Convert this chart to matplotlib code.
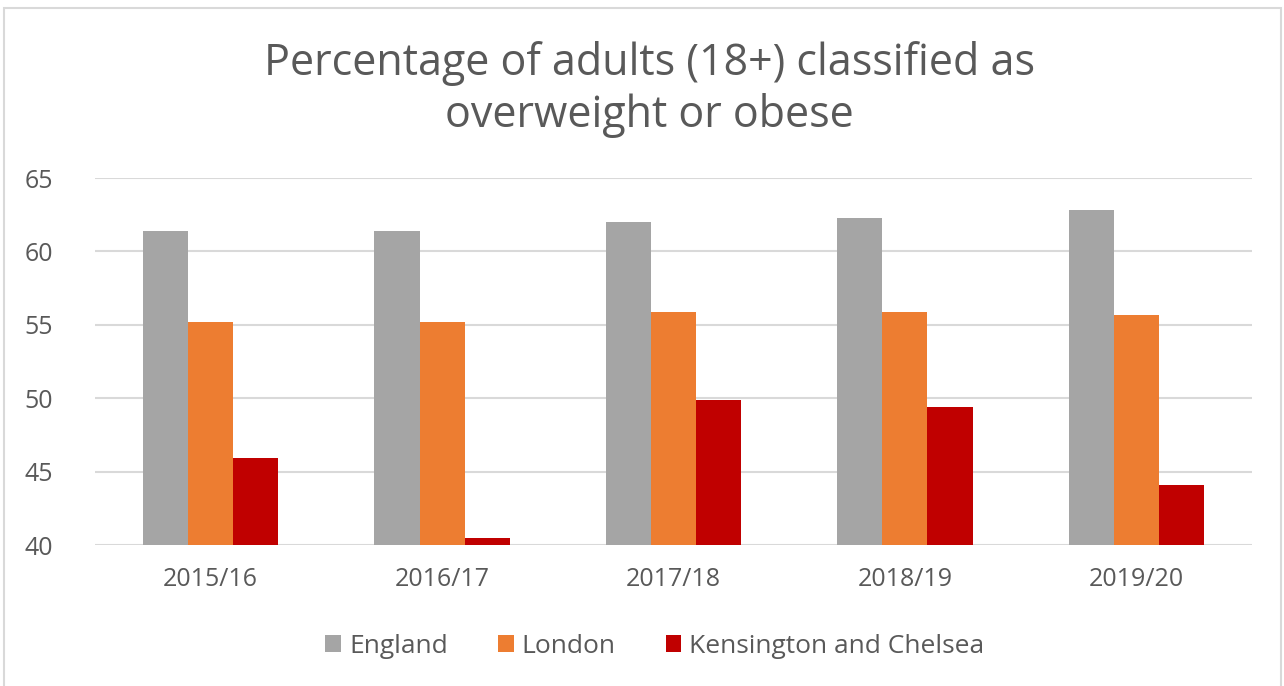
import numpy as np
import matplotlib.pyplot as plt
from matplotlib.patches import Rectangle

plt.rcParams['font.family'] = ['Open Sans', 'DejaVu Sans']

years = ['2015/16', '2016/17', '2017/18', '2018/19', '2019/20']
england = [61.4, 61.4, 62.0, 62.3, 62.8]
london = [55.2, 55.2, 55.9, 55.9, 55.7]
kensington = [45.9, 40.5, 49.9, 49.4, 44.1]

series = ['England', 'London', 'Kensington and Chelsea']
colours = ['#a5a5a5', '#ed7d31', '#c00000']
text_col = '#595959'

fig = plt.figure(figsize=(12.84, 6.86), dpi=100)
ax = fig.add_axes([0.074, 0.2055, 0.901, 0.535])

# chart border
fig.patches.append(Rectangle((0.003, -0.01), 0.995, 0.998, transform=fig.transFigure,
                             fill=False, edgecolor='#d9d9d9', linewidth=1.5))

x = np.arange(len(years))
w = 0.195
for i, (vals, name, col) in enumerate(zip([england, london, kensington], series, colours)):
    ax.bar(x + (i - 1) * w, np.array(vals) - 40, bottom=40, width=w, color=col, label=name, zorder=3)

ax.set_ylim(40, 65)
ax.set_xlim(-0.5, 4.5)
ax.set_yticks(range(40, 66, 5))
ax.set_xticks(x)
ax.set_xticklabels(years)
ax.grid(axis='y', color='#d9d9d9', linewidth=1.5, zorder=0)
for s in ax.spines.values():
    s.set_visible(False)
ax.tick_params(length=0, labelsize=18, colors=text_col)
ax.tick_params(axis='y', pad=30)
ax.tick_params(axis='x', pad=16)

fig.text(0.506, 0.87, 'Percentage of adults (18+) classified as\noverweight or obese',
         ha='center', va='center', fontsize=31, color=text_col, linespacing=1.2)

fig.legend(loc='center', bbox_to_anchor=(0.51, 0.058), ncol=3, frameon=False,
           fontsize=19, labelcolor=text_col, handlelength=0.6, handleheight=0.6,
           handletextpad=0.3, columnspacing=1.9)

fig.savefig('out.png', dpi=100)
